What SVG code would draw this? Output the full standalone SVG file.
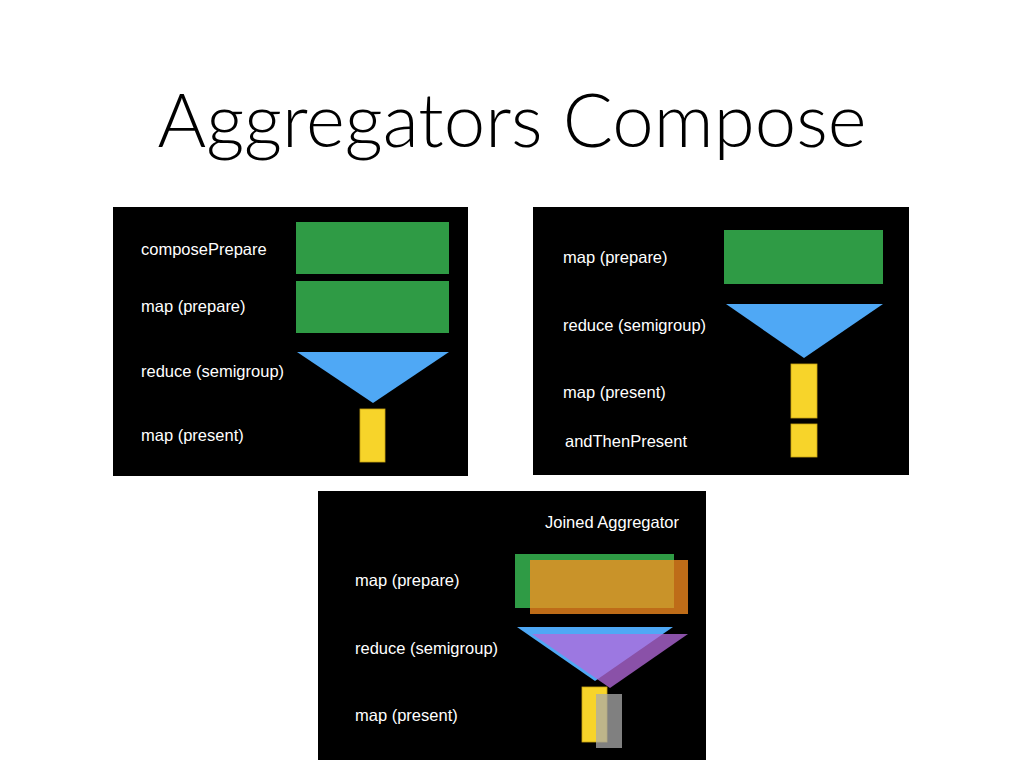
<svg xmlns="http://www.w3.org/2000/svg" width="1024" height="768" viewBox="0 0 1024 768">
<style>
.panel{fill:#000}
.lbl{font-family:"Liberation Sans",Arial,sans-serif;font-size:16.5px;fill:#fff}
.green{fill:#2F9B45}
.blue{fill:#4FA8F5}
.yellow{fill:#F7D42A;stroke:#C9A412;stroke-width:0.8}
.orange{fill:#FD9020;fill-opacity:0.75}
.purple{fill:#B36ADA;fill-opacity:0.77}
.gray{fill:#ABABAB;fill-opacity:0.75}
.title{font-family:"Lato","Open Sans",sans-serif;font-weight:300;font-size:75px;fill:#000}
</style>
<rect width="1024" height="768" fill="#fff"/>
<text class="title" x="512" y="147" text-anchor="middle" textLength="709" lengthAdjust="spacingAndGlyphs">Aggregators Compose</text>

<g id="panel-compose-prepare">
<rect class="panel" x="113" y="207" width="355" height="269"/>
<text class="lbl" x="141" y="255">composePrepare</text>
<text class="lbl" x="141" y="312">map (prepare)</text>
<text class="lbl" x="141" y="377">reduce (semigroup)</text>
<text class="lbl" x="141" y="441">map (present)</text>
<rect class="green" x="296" y="222" width="153" height="52"/>
<rect class="green" x="296" y="281" width="153" height="52"/>
<polygon class="blue" points="297,352 449,352 373,403"/>
<rect class="yellow" x="360" y="409" width="25" height="53"/>
</g>

<g id="panel-and-then-present">
<rect class="panel" x="533" y="207" width="376" height="268"/>
<text class="lbl" x="563" y="263">map (prepare)</text>
<text class="lbl" x="563" y="331">reduce (semigroup)</text>
<text class="lbl" x="563" y="398">map (present)</text>
<text class="lbl" x="565" y="447">andThenPresent</text>
<rect class="green" x="724" y="230" width="159" height="54"/>
<polygon class="blue" points="726,304 883,304 804,358"/>
<rect class="yellow" x="791" y="364" width="26" height="54"/>
<rect class="yellow" x="791" y="424" width="26" height="33"/>
</g>

<g id="panel-joined">
<rect class="panel" x="318" y="491" width="388" height="269"/>
<text class="lbl" x="545" y="528">Joined Aggregator</text>
<text class="lbl" x="355" y="586">map (prepare)</text>
<text class="lbl" x="355" y="654">reduce (semigroup)</text>
<text class="lbl" x="355" y="721">map (present)</text>
<rect class="green" x="515" y="554" width="159" height="54"/>
<rect class="orange" x="530" y="560" width="158" height="54"/>
<polygon class="blue" points="517,627 673,627 595,681"/>
<polygon class="purple" points="532,634 688,634 610,688"/>
<rect class="yellow" x="582" y="687" width="25" height="55"/>
<rect class="gray" x="596" y="694" width="26" height="54"/>
</g>
</svg>
